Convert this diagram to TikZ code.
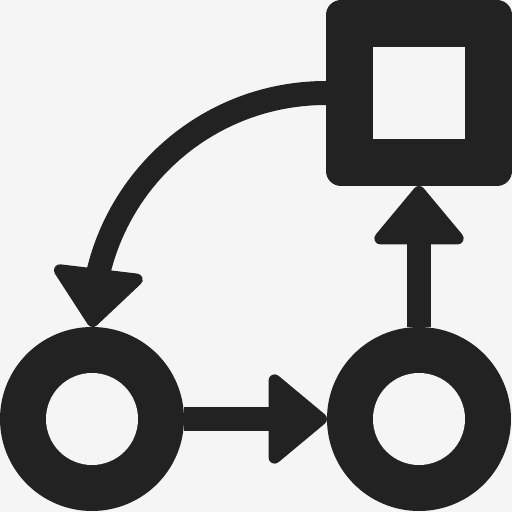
\documentclass[tikz,border=0pt]{standalone}
\usetikzlibrary{arrows.meta,bending}
\definecolor{ink}{HTML}{222222}
\definecolor{bg}{HTML}{F5F5F5}
\tikzset{
  ringout/.style={circle,fill=ink,minimum size=184pt,inner sep=0pt,outer sep=0pt},
  ringin/.style={circle,fill=bg,minimum size=92pt,inner sep=0pt,outer sep=0pt},
  boxout/.style={rectangle,fill=ink,rounded corners=15pt,minimum size=186pt,inner sep=0pt,outer sep=0pt},
  boxin/.style={rectangle,fill=bg,minimum size=92pt,inner sep=0pt,outer sep=0pt},
  conn/.style={draw=ink,line width=24pt,line cap=butt},
  headH/.style={-{Triangle[length=62pt,width=100pt,round,line width=12pt]}},
}
\begin{document}
\begin{tikzpicture}[x=1pt,y=1pt]
\fill[bg] (0,0) rectangle (512,512);
\useasboundingbox (0,0) rectangle (512,512);
\node[boxout] (S) at (419,419) {};
\node[boxin] (Si) at (S) {};
\node[ringout] (L) at (92,93) {};
\node[ringin] (Li) at (L) {};
\node[ringout] (R) at (419,93) {};
\node[ringin] (Ri) at (R) {};
\draw[conn,headH,ink] (L.east) -- (R.west);
\draw[conn,headH,ink] (R.north) -- (S.south);
\draw[conn,headH,ink] (S.west) to[out=180,in=90] (L.north);
\end{tikzpicture}
\end{document}
